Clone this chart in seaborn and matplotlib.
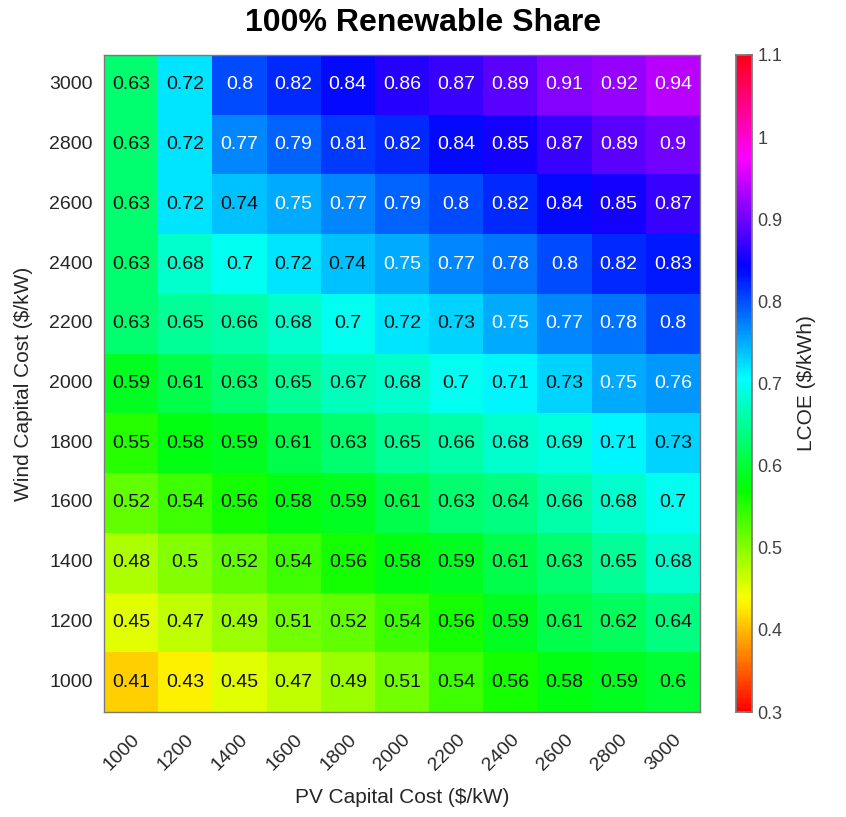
import seaborn as sns
import matplotlib.pyplot as plt
import pandas as pd

# ----------------------------------------------------------
# LCOE heatmap: PV vs wind capital cost, 100% renewable share
# ----------------------------------------------------------

pv_cost = [1000, 1200, 1400, 1600, 1800, 2000, 2200, 2400, 2600, 2800, 3000]
wind_cost = [3000, 2800, 2600, 2400, 2200, 2000, 1800, 1600, 1400, 1200, 1000]

lcoe_w3000 = [0.63, 0.72, 0.80, 0.82, 0.84, 0.86, 0.87, 0.89, 0.91, 0.92, 0.94]
lcoe_w2800 = [0.63, 0.72, 0.77, 0.79, 0.81, 0.82, 0.84, 0.85, 0.87, 0.89, 0.90]
lcoe_w2600 = [0.63, 0.72, 0.74, 0.75, 0.77, 0.79, 0.80, 0.82, 0.84, 0.85, 0.87]
lcoe_w2400 = [0.63, 0.68, 0.70, 0.72, 0.74, 0.75, 0.77, 0.78, 0.80, 0.82, 0.83]
lcoe_w2200 = [0.63, 0.65, 0.66, 0.68, 0.70, 0.72, 0.73, 0.75, 0.77, 0.78, 0.80]
lcoe_w2000 = [0.59, 0.61, 0.63, 0.65, 0.67, 0.68, 0.70, 0.71, 0.73, 0.75, 0.76]
lcoe_w1800 = [0.55, 0.58, 0.59, 0.61, 0.63, 0.65, 0.66, 0.68, 0.69, 0.71, 0.73]
lcoe_w1600 = [0.52, 0.54, 0.56, 0.58, 0.59, 0.61, 0.63, 0.64, 0.66, 0.68, 0.70]
lcoe_w1400 = [0.48, 0.50, 0.52, 0.54, 0.56, 0.58, 0.59, 0.61, 0.63, 0.65, 0.68]
lcoe_w1200 = [0.45, 0.47, 0.49, 0.51, 0.52, 0.54, 0.56, 0.59, 0.61, 0.62, 0.64]
lcoe_w1000 = [0.41, 0.43, 0.45, 0.47, 0.49, 0.51, 0.54, 0.56, 0.58, 0.59, 0.60]

cbar_ticks = [0.3, 0.4, 0.5, 0.6, 0.7, 0.8, 0.9, 1.0, 1.1]
cbar_labels = ["0.3", "0.4", "0.5", "0.6", "0.7", "0.8", "0.9", "1", "1.1"]

rows = [lcoe_w3000, lcoe_w2800, lcoe_w2600, lcoe_w2400, lcoe_w2200, lcoe_w2000,
        lcoe_w1800, lcoe_w1600, lcoe_w1400, lcoe_w1200, lcoe_w1000]
df = pd.DataFrame(rows, index=wind_cost, columns=pv_cost)

sns.set_theme(style="white")
plt.rcParams['font.family'] = ['Liberation Sans', 'DejaVu Sans']

fig = plt.figure(figsize=(8.46, 8.17), dpi=100)
ax = fig.add_axes([0.1229, 0.1285, 0.7045, 0.8042])
cax = fig.add_axes([0.870, 0.1285, 0.0189, 0.8042])

sns.heatmap(df, ax=ax, cbar_ax=cax, cmap="hsv", vmin=0.3, vmax=1.1,
            annot=True, fmt="g", annot_kws={"fontsize": 14},
            cbar_kws={"ticks": cbar_ticks})

# white labels on the dark blue / purple cells
for txt in ax.texts:
    val = float(txt.get_text())
    txt.set_color("white" if val >= 0.745 else "#101010")

for side in ax.spines.values():
    side.set_visible(True)
    side.set_color("#7a7a7a")
    side.set_linewidth(1)

ax.tick_params(axis="y", length=0, labelsize=14, colors="#262626", pad=8)
ax.tick_params(axis="x", length=0, labelsize=14, colors="#262626", pad=14)
ax.set_xticklabels(pv_cost, rotation=45, ha="right", rotation_mode="anchor")
ax.set_yticklabels(wind_cost, rotation=0)
ax.set_xlabel("PV Capital Cost ($/kW)", fontsize=15, color="#262626", labelpad=10)
ax.set_ylabel("Wind Capital Cost ($/kW)", fontsize=15, color="#262626", labelpad=12)

cax.tick_params(labelsize=13, colors="#404040", length=4, direction="in", pad=4)
cax.set_yticklabels(cbar_labels)
cax.set_ylabel("LCOE ($/kWh)", fontsize=15, color="#262626", labelpad=10)
for side in cax.spines.values():
    side.set_visible(True)
    side.set_color("#7a7a7a")

fig.suptitle("100% Renewable Share", fontsize=23, fontweight="bold",
             color="black", y=0.99, x=0.5)

fig.savefig("out.png", dpi=100)
